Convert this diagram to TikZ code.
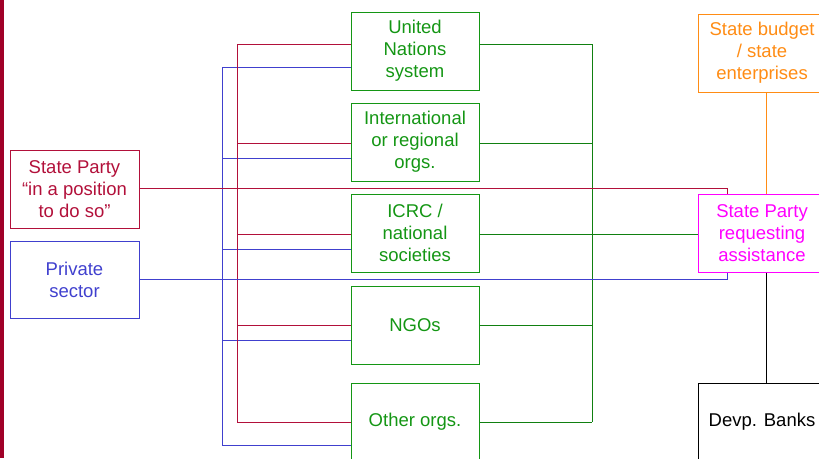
\documentclass[tikz,border=0pt]{standalone}
\usepackage{fontspec}
\setmainfont{Liberation Sans}
\definecolor{barred}{RGB}{160,0,40}
\definecolor{spred}{RGB}{178,16,58}
\definecolor{psblue}{RGB}{64,64,206}
\definecolor{orggreen}{RGB}{20,150,20}
\definecolor{budorange}{RGB}{255,140,20}
\definecolor{reqmagenta}{RGB}{255,0,255}
\begin{document}
\begin{tikzpicture}[x=1pt,y=-1pt,line width=1pt,
    box/.style={draw,minimum width=128pt,minimum height=78pt,inner sep=0pt,
        align=center,font=\fontsize{18.5}{22}\selectfont},
    redline/.style={draw=spred},
    blueline/.style={draw=psblue},
    greenline/.style={draw=orggreen!85!black}]
    \path[use as bounding box,clip] (0,0) rectangle (819,458);
    \fill[barred] (0,0) rectangle (4,458);

    \node[box,draw=spred,text=spred,minimum width=129pt] (sp) at (74.5,189) {State Party\\``in a position\\to do so''};
    \node[box,draw=psblue,text=psblue,minimum width=129pt,minimum height=77pt] (ps) at (74.5,279.5) {Private\\sector};

    \node[box,draw=orggreen,text=orggreen] (un) at (415,51) {United\\Nations\\system};
    \node[box,draw=orggreen,text=orggreen] (io) at (415,142) {International\\or regional\\orgs.};
    \node[box,draw=orggreen,text=orggreen] (icrc) at (415,233) {ICRC /\\national\\societies};
    \node[box,draw=orggreen,text=orggreen] (ngo) at (415,325) {NGOs};
    \node[box,draw=orggreen,text=orggreen] (oth) at (415,422) {Other orgs.};

    \node[box,draw=budorange,text=budorange] (bud) at (762,53) {State budget\\/ state\\enterprises};
    \node[box,draw=reqmagenta,text=reqmagenta] (req) at (762,233) {State Party\\requesting\\assistance};
    \node[box,draw=black,text=black] (dev) at (762,422) {Devp. Banks};

    \foreach \n/\r/\b in {un/44/67,io/143/158,icrc/234/249,ngo/325/340,oth/422/445} {
        \draw[redline] (237,\r) -- (\n.west |- 0,\r);
        \draw[blueline] (222,\b) -- (\n.west |- 0,\b);
        \draw[greenline] (\n.east |- 0,\r) -- (592,\r);
    }
    \draw[redline] (237,44) -- (237,422);
    \draw[blueline] (222,67) -- (222,445);
    \draw[greenline] (592,44) -- (592,422);

    \draw[redline] (sp.east |- 0,188) -| ([xshift=30pt]req.north west);
    \draw[blueline] (ps.east |- 0,279) -| ([xshift=30pt]req.south west);
    \draw[greenline] (icrc.east |- 0,234) -- (req.west |- 0,234);
    \draw[draw=budorange] ([xshift=4pt]bud.south) -- ([xshift=4pt]req.north);
    \draw[draw=black] ([xshift=4pt]req.south) -- ([xshift=4pt]dev.north);
\end{tikzpicture}
\end{document}
